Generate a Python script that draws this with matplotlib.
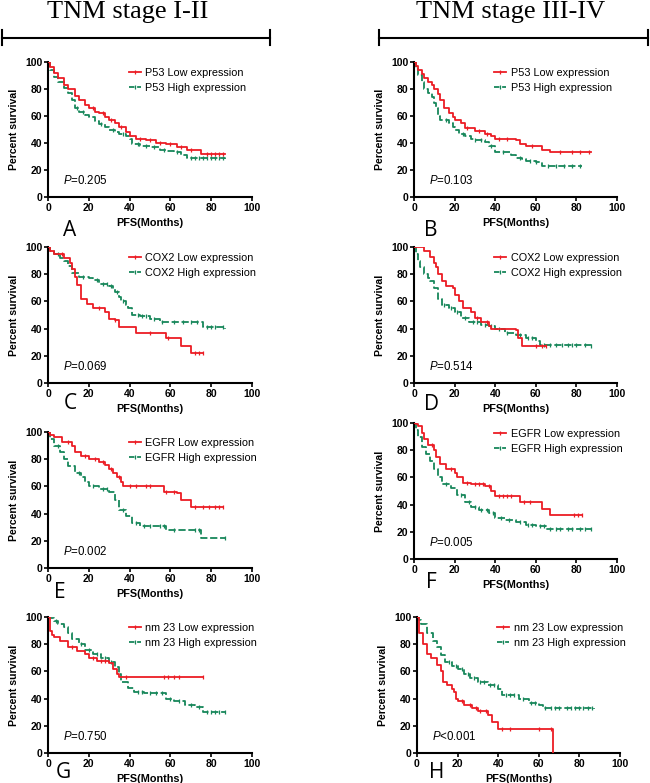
import numpy as np
import matplotlib
matplotlib.use("Agg")
import matplotlib.pyplot as plt
from matplotlib.lines import Line2D

plt.rcParams['font.family'] = ['Liberation Sans', 'DejaVu Sans']
plt.rcParams['mathtext.fontset'] = 'custom'
plt.rcParams['mathtext.rm'] = 'Liberation Sans'
plt.rcParams['mathtext.it'] = 'Liberation Sans:italic'

RED = '#EC1C24'
GREEN = '#17875A'

# ---- Data: step points (time in months, percent survival) and censor times ----
# Panel A: P53, stage I-II
A_low_t = [0, 1, 3, 5, 8, 10, 13, 15, 18, 20, 23, 25, 28, 30, 33, 35, 38, 40, 43, 48, 53, 58, 63, 68, 75, 87]
A_low_s = [100, 96, 92, 88, 83, 80, 75, 72, 68, 66, 63, 62, 59, 57, 55, 52, 48, 45, 43, 42, 40, 39, 37, 35, 32, 32]
A_low_c = [22, 27, 31, 36, 45, 50, 55, 60, 65, 70, 78, 80, 82, 84, 86]
A_high_t = [0, 1, 3, 5, 8, 10, 12, 13, 15, 18, 20, 23, 25, 28, 30, 33, 35, 38, 40, 41, 45, 50, 55, 58, 62, 65, 68, 87]
A_high_s = [100, 94, 89, 85, 81, 77, 72, 66, 63, 61, 59, 56, 54, 52, 50, 48, 47, 45, 43, 39, 38, 37, 35, 34, 33, 31, 29, 28]
A_high_c = [14, 17, 26, 32, 37, 44, 48, 52, 57, 63, 70, 72, 74, 76, 78, 80, 82, 84, 86]

# Panel B: P53, stage III-IV
B_low_t = [0, 1, 2, 4, 5, 7, 9, 10, 12, 13, 15, 17, 19, 20, 23, 25, 30, 35, 38, 40, 50, 52, 55, 62, 63, 67, 87]
B_low_s = [100, 97, 94, 91, 88, 85, 83, 80, 76, 72, 66, 62, 59, 57, 55, 51, 49, 47, 45, 43, 42, 39, 38, 38, 35, 33, 33]
B_low_c = [26, 32, 36, 42, 46, 58, 72, 78, 82, 86]
B_high_t = [0, 1, 2, 4, 5, 7, 9, 10, 11, 12, 13, 17, 19, 20, 22, 25, 28, 30, 35, 37, 40, 45, 48, 50, 53, 55, 60, 63, 83]
B_high_s = [100, 95, 90, 85, 80, 77, 74, 70, 66, 60, 57, 55, 52, 50, 47, 45, 43, 42, 41, 38, 33, 33, 31, 29, 28, 27, 26, 23, 23]
B_high_c = [16, 24, 30, 33, 38, 44, 52, 57, 60, 66, 70, 74, 78, 82]

# Panel C: COX2, stage I-II
C_low_t = [0, 1, 3, 8, 11, 12, 13, 14, 16, 19, 22, 28, 30, 33, 35, 43, 58, 60, 65, 70, 76]
C_low_s = [100, 97, 95, 92, 88, 84, 78, 72, 62, 58, 55, 52, 47, 46, 41, 37, 33, 33, 27, 22, 22]
C_low_c = [7, 25, 33, 50, 59, 72, 74, 76]
C_high_t = [0, 1, 3, 6, 8, 10, 12, 15, 20, 22, 25, 30, 32, 33, 35, 36, 38, 39, 41, 45, 50, 55, 74, 76, 87]
C_high_s = [100, 97, 95, 92, 90, 86, 81, 78, 77, 76, 73, 71, 69, 67, 63, 60, 57, 55, 50, 49, 47, 45, 45, 41, 40]
C_high_c = [5, 17, 24, 27, 29, 31, 34, 37, 44, 46, 48, 52, 56, 62, 66, 70, 73, 78, 80, 82, 86]

# Panel D: COX2, stage III-IV
D_low_t = [0, 5, 8, 10, 11, 12, 14, 16, 19, 20, 22, 24, 28, 30, 33, 37, 38, 50, 51, 53, 65]
D_low_s = [100, 97, 93, 88, 85, 80, 75, 71, 70, 65, 60, 55, 52, 48, 45, 42, 40, 39, 33, 27, 27]
D_low_c = [31, 36, 60, 63, 65]
D_high_t = [0, 1, 2, 3, 5, 7, 8, 10, 12, 14, 17, 20, 23, 27, 33, 37, 40, 45, 50, 55, 60, 62, 87]
D_high_s = [100, 95, 90, 85, 80, 77, 75, 70, 62, 57, 55, 52, 48, 45, 43, 42, 40, 37, 35, 33, 31, 28, 27]
D_high_c = [15, 18, 21, 25, 29, 31, 35, 38, 42, 46, 52, 56, 58, 64, 67, 70, 73, 76, 78, 80, 84, 87]

# Panel E: EGFR, stage I-II
E_low_t = [0, 1, 3, 7, 12, 13, 16, 20, 25, 28, 30, 32, 34, 36, 37, 57, 63, 65, 70, 86]
E_low_s = [100, 98, 96, 93, 90, 85, 82, 80, 78, 76, 73, 70, 67, 63, 60, 56, 55, 50, 45, 45]
E_low_c = [10, 18, 23, 27, 31, 35, 40, 43, 48, 50, 58, 62, 72, 76, 79, 82, 84, 86]
E_high_t = [0, 1, 3, 6, 8, 10, 13, 16, 18, 20, 25, 30, 33, 35, 38, 41, 45, 58, 75, 87]
E_high_s = [100, 95, 90, 85, 80, 75, 70, 67, 63, 60, 58, 56, 50, 43, 38, 33, 31, 28, 22, 22]
E_high_c = [5, 15, 22, 27, 29, 37, 43, 47, 50, 55, 57, 62, 72, 74, 87]

# Panel F: EGFR, stage III-IV
F_low_t = [0, 1, 2, 4, 5, 7, 10, 11, 13, 16, 20, 21, 24, 28, 35, 38, 40, 50, 52, 62, 63, 67, 83]
F_low_s = [100, 99, 98, 93, 88, 84, 80, 75, 70, 66, 63, 60, 56, 55, 54, 50, 46, 46, 42, 42, 37, 32, 32]
F_low_c = [9, 18, 26, 30, 32, 34, 37, 42, 44, 46, 48, 54, 57, 79, 81, 83]
F_high_t = [0, 1, 2, 4, 6, 8, 10, 12, 14, 18, 21, 25, 28, 32, 37, 40, 45, 50, 55, 60, 65, 87]
F_high_s = [100, 95, 90, 82, 77, 72, 66, 60, 55, 52, 47, 42, 38, 36, 34, 30, 29, 27, 25, 24, 22, 22]
F_high_c = [16, 23, 27, 30, 33, 36, 39, 43, 47, 52, 56, 58, 62, 64, 67, 70, 72, 76, 78, 82, 84, 87]

# Panel G: nm23, stage I-II
G_low_t = [0, 1, 2, 3, 6, 10, 14, 18, 20, 24, 30, 32, 34, 35, 76]
G_low_s = [100, 90, 87, 85, 82, 78, 75, 73, 70, 68, 66, 62, 58, 56, 56]
G_low_c = [12, 22, 26, 28, 38, 57, 59, 62, 64, 76]
G_high_t = [0, 1, 3, 5, 8, 10, 12, 15, 18, 22, 26, 30, 33, 35, 36, 39, 42, 47, 58, 62, 67, 72, 76, 87]
G_high_s = [100, 99, 97, 95, 93, 88, 84, 80, 76, 73, 70, 67, 63, 58, 52, 48, 45, 44, 40, 38, 35, 34, 30, 30]
G_high_c = [4, 16, 20, 24, 28, 31, 44, 46, 50, 53, 56, 60, 64, 70, 74, 78, 80, 82, 84, 87]

# Panel H: nm23, stage III-IV
H_low_t = [0, 1, 3, 5, 7, 10, 12, 13, 15, 17, 18, 19, 20, 23, 27, 30, 35, 37, 40, 67, 67.01]
H_low_s = [100, 88, 80, 73, 70, 65, 60, 52, 50, 47, 45, 40, 38, 35, 33, 31, 28, 23, 18, 18, 0]
H_low_c = [22, 26, 29, 31, 34, 42, 46, 60, 66]
H_high_t = [0, 1, 2, 5, 8, 10, 12, 14, 17, 20, 23, 26, 30, 35, 40, 42, 50, 55, 60, 62, 87]
H_high_s = [100, 98, 95, 88, 82, 78, 72, 67, 64, 62, 58, 55, 52, 50, 47, 43, 40, 37, 35, 33, 32]
H_high_c = [16, 19, 22, 25, 28, 31, 33, 36, 38, 44, 46, 48, 52, 56, 58, 63, 66, 68, 70, 74, 76, 78, 80, 82, 84, 86]

GENES = ['P53', 'P53', 'COX2', 'COX2', 'EGFR', 'EGFR', 'nm 23', 'nm 23']
PVALUES = ['=0.205', '=0.103', '=0.069', '=0.514', '=0.002', '=0.005', '=0.750', '<0.001']
LETTERS = ['A', 'B', 'C', 'D', 'E', 'F', 'G', 'H']
HEADERS = ['TNM stage I-II', 'TNM stage III-IV']

panels = [
    (A_low_t, A_low_s, A_low_c, A_high_t, A_high_s, A_high_c),
    (B_low_t, B_low_s, B_low_c, B_high_t, B_high_s, B_high_c),
    (C_low_t, C_low_s, C_low_c, C_high_t, C_high_s, C_high_c),
    (D_low_t, D_low_s, D_low_c, D_high_t, D_high_s, D_high_c),
    (E_low_t, E_low_s, E_low_c, E_high_t, E_high_s, E_high_c),
    (F_low_t, F_low_s, F_low_c, F_high_t, F_high_s, F_high_c),
    (G_low_t, G_low_s, G_low_c, G_high_t, G_high_s, G_high_c),
    (H_low_t, H_low_s, H_low_c, H_high_t, H_high_s, H_high_c),
]

# axes boxes in pixels (left, top, right, bottom)
W, H = 650, 783
boxes = [
    (48, 62, 252, 197), (414, 62, 617, 197),
    (48, 247, 252, 383), (414, 247, 617, 383),
    (48, 432, 252, 568), (414, 423, 617, 559),
    (48, 617, 252, 753), (417, 617, 620, 753),
]
letter_pos = [(70, 230), (431, 230), (70, 403), (431, 405),
              (60, 592), (431, 583), (63, 773), (437, 773)]

fig = plt.figure(figsize=(W / 100, H / 100), dpi=100)


def surv_at(t, s, c):
    t = np.asarray(t); s = np.asarray(s)
    idx = np.searchsorted(t, c, side='right') - 1
    return s[np.clip(idx, 0, len(s) - 1)]


for i, (box, data) in enumerate(zip(boxes, panels)):
    l, tp, r, b = box
    ax = fig.add_axes([l / W, 1 - b / H, (r - l) / W, (b - tp) / H])
    lt, ls, lc, ht, hs, hc = data
    ax.step(lt, ls, where='post', color=RED, lw=1.3, zorder=3)
    ax.plot(lc, surv_at(lt, ls, lc), ls='none', marker='|', ms=3.5, mew=0.9, color=RED, zorder=3)
    ax.step(ht, hs, where='post', color=GREEN, lw=1.3, ls=(0, (4, 1.5)), zorder=2)
    ax.plot(hc, surv_at(ht, hs, hc), ls='none', marker='|', ms=3.5, mew=0.9, color=GREEN, zorder=2)

    ax.set_xlim(0, 100)
    ax.set_ylim(0, 100)
    ax.set_xticks(np.arange(0, 101, 20))
    ax.set_yticks(np.arange(0, 101, 20))
    for sp in ['top', 'right']:
        ax.spines[sp].set_visible(False)
    for sp in ['left', 'bottom']:
        ax.spines[sp].set_linewidth(1.5)
    ax.tick_params(axis='both', direction='out', length=3, width=1.2, labelsize=7.5, pad=1.2)
    for lab in ax.get_xticklabels() + ax.get_yticklabels():
        lab.set_fontweight('bold')
    ax.set_xlabel('PFS(Months)', fontsize=7.8, fontweight='bold', labelpad=4)
    ax.set_ylabel('Percent survival', fontsize=7.6, fontweight='bold', labelpad=4)

    handles = [Line2D([], [], color=RED, lw=1.3, marker='|', ms=3.5, mew=0.9),
               Line2D([], [], color=GREEN, lw=1.3, ls=(0, (3, 1.5)), marker='|', ms=3.5, mew=0.9)]
    ax.legend(handles, [f'{GENES[i]} Low expression', f'{GENES[i]} High expression'],
              loc='upper left', bbox_to_anchor=(0.385, 0.975), frameon=False,
              fontsize=7.8, handlelength=1.1, handletextpad=0.45, labelspacing=0.47,
              borderpad=0.2, borderaxespad=0.0)
    ax.text(7.5, 12, r'$\mathit{P}$' + PVALUES[i], fontsize=8.3, va='center', ha='left')

    lx, ly = letter_pos[i]
    fig.text(lx / W, 1 - ly / H, LETTERS[i], fontsize=15, family='Open Sans',
             ha='center', va='center')

# headers with brackets
for hx, txt in zip([128, 511], HEADERS):
    fig.text(hx / W, 1 - 18 / H, txt, fontsize=19, family='Liberation Serif',
             ha='center', va='baseline')
for x0, x1 in [(2, 270), (379, 648)]:
    fig.add_artist(Line2D([x0 / W, x1 / W], [1 - 38 / H, 1 - 38 / H], color='black', lw=1.5))
    for xx in (x0, x1):
        fig.add_artist(Line2D([xx / W, xx / W], [1 - 30 / H, 1 - 45 / H], color='black', lw=1.5))

fig.savefig('out.png', dpi=100)
